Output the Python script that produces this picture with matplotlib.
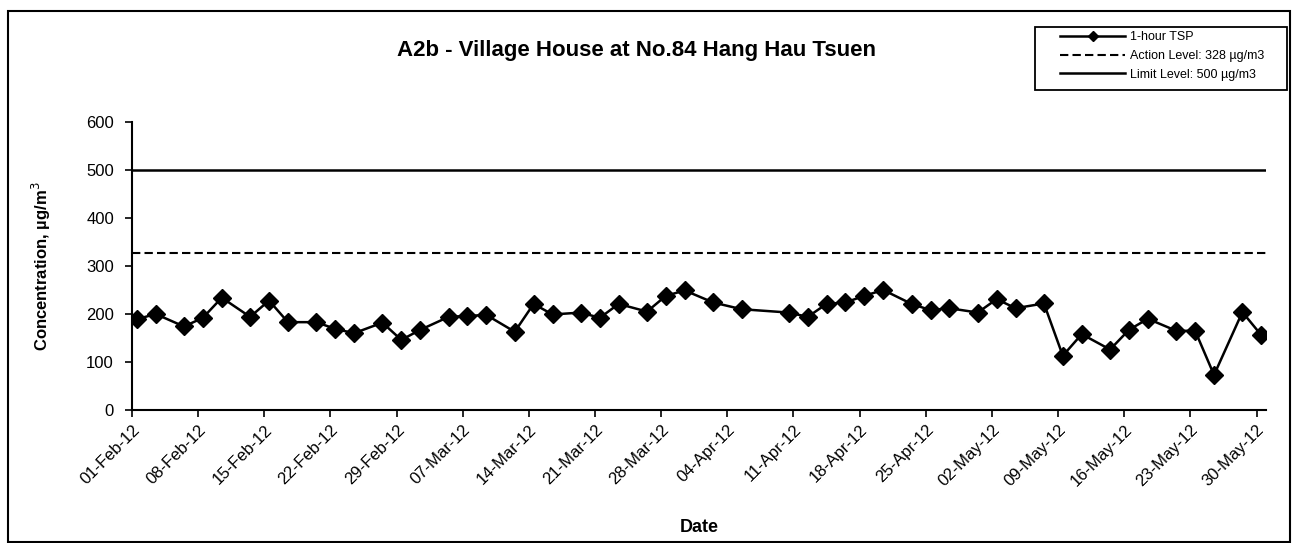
import pandas as pd
import matplotlib
matplotlib.use("Agg")
import matplotlib.pyplot as plt
import matplotlib.dates as mdates
from matplotlib.patches import Rectangle

plt.rcParams["font.family"] = ["Liberation Sans", "DejaVu Sans"]

# sampling dates and 1-hour TSP results (ug/m3)
dates = [
    "2012-02-01", "2012-02-03", "2012-02-06", "2012-02-08", "2012-02-10",
    "2012-02-13", "2012-02-15", "2012-02-17", "2012-02-20", "2012-02-22",
    "2012-02-24", "2012-02-27", "2012-02-29", "2012-03-02", "2012-03-05",
    "2012-03-07", "2012-03-09", "2012-03-12", "2012-03-14", "2012-03-16",
    "2012-03-19", "2012-03-21", "2012-03-23", "2012-03-26", "2012-03-28",
    "2012-03-30", "2012-04-02", "2012-04-05", "2012-04-10", "2012-04-12",
    "2012-04-14", "2012-04-16", "2012-04-18", "2012-04-20", "2012-04-23",
    "2012-04-25", "2012-04-27", "2012-04-30", "2012-05-02", "2012-05-04",
    "2012-05-07", "2012-05-09", "2012-05-11", "2012-05-14", "2012-05-16",
    "2012-05-18", "2012-05-21", "2012-05-23", "2012-05-25", "2012-05-28",
    "2012-05-30",
]
tsp = [
    189, 200, 174, 192, 234, 194, 228, 183, 183, 169,
    160, 182, 146, 167, 194, 196, 198, 163, 221, 199,
    203, 192, 221, 205, 238, 249, 224, 210, 203, 194,
    221, 224, 238, 250, 221, 208, 212, 203, 231, 212,
    222, 113, 158, 126, 167, 190, 165, 165, 73, 204,
    156,
]
action_level = 328
limit_level = 500
x_start, x_end = "2012-02-01", "2012-05-31"

W, H = 1294, 543
x = pd.to_datetime(dates) + pd.Timedelta(hours=12)
xlim = pd.to_datetime([x_start, x_end])

fig = plt.figure(figsize=(W / 100, H / 100), dpi=100)
ax = fig.add_axes([132 / W, 1 - 410 / H, 1134 / W, 288 / H])

ax.plot(x, tsp, color="black", lw=1.8, marker="D", ms=9, label="1-hour TSP")
ax.plot(xlim, [action_level] * 2, color="black", lw=1.5, ls=(0, (4, 2)),
        label=f"Action Level: {action_level} µg/m3")
ax.plot(xlim, [limit_level] * 2, color="black", lw=1.8,
        label=f"Limit Level: {limit_level} µg/m3")

ax.set_xlim(xlim[0], xlim[1])
ax.set_ylim(0, 600)
ax.set_yticks(range(0, 601, 100))
ax.set_xticks(pd.date_range(x_start, "2012-05-30", freq="7D"))
ax.xaxis.set_major_formatter(mdates.DateFormatter("%d-%b-%y"))
plt.setp(ax.get_xticklabels(), rotation=45, ha="right", rotation_mode="anchor")
ax.tick_params(axis="both", labelsize=12, length=5, width=1.2, direction="out")
ax.tick_params(axis="y", pad=8)
for side in ("top", "right"):
    ax.spines[side].set_visible(False)
for side in ("left", "bottom"):
    ax.spines[side].set_linewidth(1.5)

ax.set_title("A2b - Village House at No.84 Hang Hau Tsuen", fontsize=16,
             fontweight="bold", x=0.445, y=1.2)
ax.set_ylabel("Concentration, µg/m$^3$", fontsize=12, fontweight="bold", labelpad=24)
ax.set_xlabel("Date", fontsize=13, fontweight="bold", labelpad=22)

# legend box in the top-right corner
leg = fig.legend(loc="upper left", bbox_to_anchor=(1060 / W, 1 - 31 / H),
                 fontsize=9, frameon=False, handlelength=5.2, handletextpad=0.4,
                 markerscale=0.55, borderpad=0, labelspacing=0.55, borderaxespad=0)
fig.patches.append(Rectangle((1035 / W, 1 - 90 / H), 252 / W, 63 / H,
                             transform=fig.transFigure, fill=False,
                             edgecolor="black", lw=1.3))

# chart area border
fig.patches.append(Rectangle((8 / W, 0.002), 1282 / W, 1 - 11 / H - 0.002,
                             transform=fig.transFigure, fill=False,
                             edgecolor="black", lw=1.5))

fig.savefig("out.png", dpi=100)
